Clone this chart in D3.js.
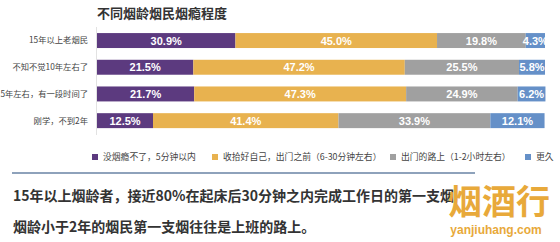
<!DOCTYPE html>
<html>
<head>
<meta charset="utf-8">
<script src="https://cdn.jsdelivr.net/npm/d3@7"></script>
<style>
  body { margin: 0; background: #fff; }
  svg { display: block; font-family: "Noto Sans CJK SC", "Noto Sans", sans-serif; }
</style>
</head>
<body>
<div id="chart"></div>
<script>
// data
let categories = ["15年以上老烟民", "不知不觉10年左右了", "5年左右，有一段时间了", "刚学，不到2年"];
let series_names = ["没烟瘾不了，5分钟以内", "收拾好自己，出门之前（6-30分钟左右）", "出门的路上（1-2小时左右）", "更久"];
let within_5min = [30.9, 21.5, 21.7, 12.5];
let before_leave = [45.0, 47.2, 47.3, 41.4];
let on_the_way = [19.8, 25.5, 24.9, 33.9];
let longer = [4.3, 5.8, 6.2, 12.1];
let note_lines = [
  "15年以上烟龄者，接近80%在起床后30分钟之内完成工作日的第一支烟",
  "烟龄小于2年的烟民第一支烟往往是上班的路上。"
];

// colors
let color_purple = "#5c3a7f";
let color_orange = "#e8b24f";
let color_gray = "#a0a0a0";
let color_blue = "#6590c8";
let colors = [color_purple, color_orange, color_gray, color_blue];

let width = 560;
let height = 242;

let svg = d3.select("#chart")
            .append("svg")
            .attr("width", width)
            .attr("height", height);

// table for stacking
let table = categories.map((c, i) => ({
  cat: c, s0: within_5min[i], s1: before_leave[i], s2: on_the_way[i], s3: longer[i]
}));
let stack = d3.stack().keys(["s0", "s1", "s2", "s3"])(table);

let x = d3.scaleLinear().domain([0, 100]).range([97, 545]);
let y = d3.scaleBand().domain(categories).range([27.2, 134]).paddingInner(0.44).paddingOuter(0.22);

// title
svg.append("text")
   .attr("x", 97)
   .attr("y", 18)
   .attr("font-size", 13)
   .attr("font-weight", "bold")
   .attr("fill", "#333")
   .text("不同烟龄烟民烟瘾程度");

// faint axis line
svg.append("line")
   .attr("x1", 96.5).attr("x2", 96.5)
   .attr("y1", 27).attr("y2", 135)
   .attr("stroke", "#e2e2e2");

// category labels
svg.append("g")
   .selectAll("text")
   .data(categories)
   .join("text")
   .attr("x", 88)
   .attr("y", d => y(d) + y.bandwidth() / 2)
   .attr("dy", "0.35em")
   .attr("text-anchor", "end")
   .attr("font-size", 8.3)
   .attr("fill", "#444")
   .text(d => d);

svg.append("clipPath")
   .attr("id", "clip")
   .append("rect")
   .attr("x", 0).attr("y", 0)
   .attr("width", 546).attr("height", height);

let layers = svg.append("g")
   .attr("clip-path", "url(#clip)")
   .selectAll("g")
   .data(stack)
   .join("g");

layers.selectAll("rect")
   .data((d, i) => d.map(v => ({v: v, i: i})))
   .join("rect")
   .attr("x", d => x(d.v[0]))
   .attr("y", d => y(d.v.data.cat))
   .attr("width", d => x(d.v[1]) - x(d.v[0]))
   .attr("height", y.bandwidth())
   .attr("fill", d => colors[d.i]);

layers.selectAll("text")
   .data((d, i) => d.map(v => ({v: v, i: i})))
   .join("text")
   .attr("x", d => (x(d.v[0]) + x(d.v[1])) / 2)
   .attr("y", d => y(d.v.data.cat) + y.bandwidth() / 2)
   .attr("dy", "0.36em")
   .attr("text-anchor", "middle")
   .attr("font-size", 11)
   .attr("font-family", "Liberation Sans, Arial, sans-serif")
   .attr("font-weight", "bold")
   .attr("fill", "#fff")
   .text(d => (d.v[1] - d.v[0]).toFixed(1) + "%");

// legend
let legend_x = [92, 212, 390, 525];
let legend = svg.append("g")
   .selectAll("g")
   .data(series_names)
   .join("g")
   .attr("transform", (d, i) => "translate(" + legend_x[i] + ",157)");

legend.append("rect")
   .attr("x", 0).attr("y", -3)
   .attr("width", 6).attr("height", 6)
   .attr("fill", (d, i) => colors[i]);

legend.append("text")
   .attr("x", 11)
   .attr("dy", "0.35em")
   .attr("font-size", 8.8)
   .attr("fill", "#444")
   .text(d => d);

// separator
svg.append("line")
   .attr("x1", 12).attr("x2", 475)
   .attr("y1", 173).attr("y2", 173)
   .attr("stroke", "#8ea2bb")
   .attr("stroke-width", 2);

// notes
svg.append("g")
   .selectAll("text")
   .data(note_lines)
   .join("text")
   .attr("x", 13)
   .attr("y", (d, i) => 196 + i * 31)
   .attr("dy", "0.35em")
   .attr("font-size", 14)
   .attr("font-weight", "bold")
   .attr("fill", "#333")
   .text(d => d);

// watermark
svg.append("text")
   .attr("x", 499).attr("y", 214)
   .attr("text-anchor", "middle")
   .attr("font-size", 34)
   .attr("font-weight", "bold")
   .attr("fill", "#e8a93a")
   .text("烟酒行");

svg.append("text")
   .attr("x", 496).attr("y", 234)
   .attr("text-anchor", "middle")
   .attr("font-size", 12)
   .attr("font-weight", "bold")
   .attr("font-family", "Liberation Sans, Arial, sans-serif")
   .attr("fill", "#e8a93a")
   .text("yanjiuhang.com");
</script>
</body>
</html>
